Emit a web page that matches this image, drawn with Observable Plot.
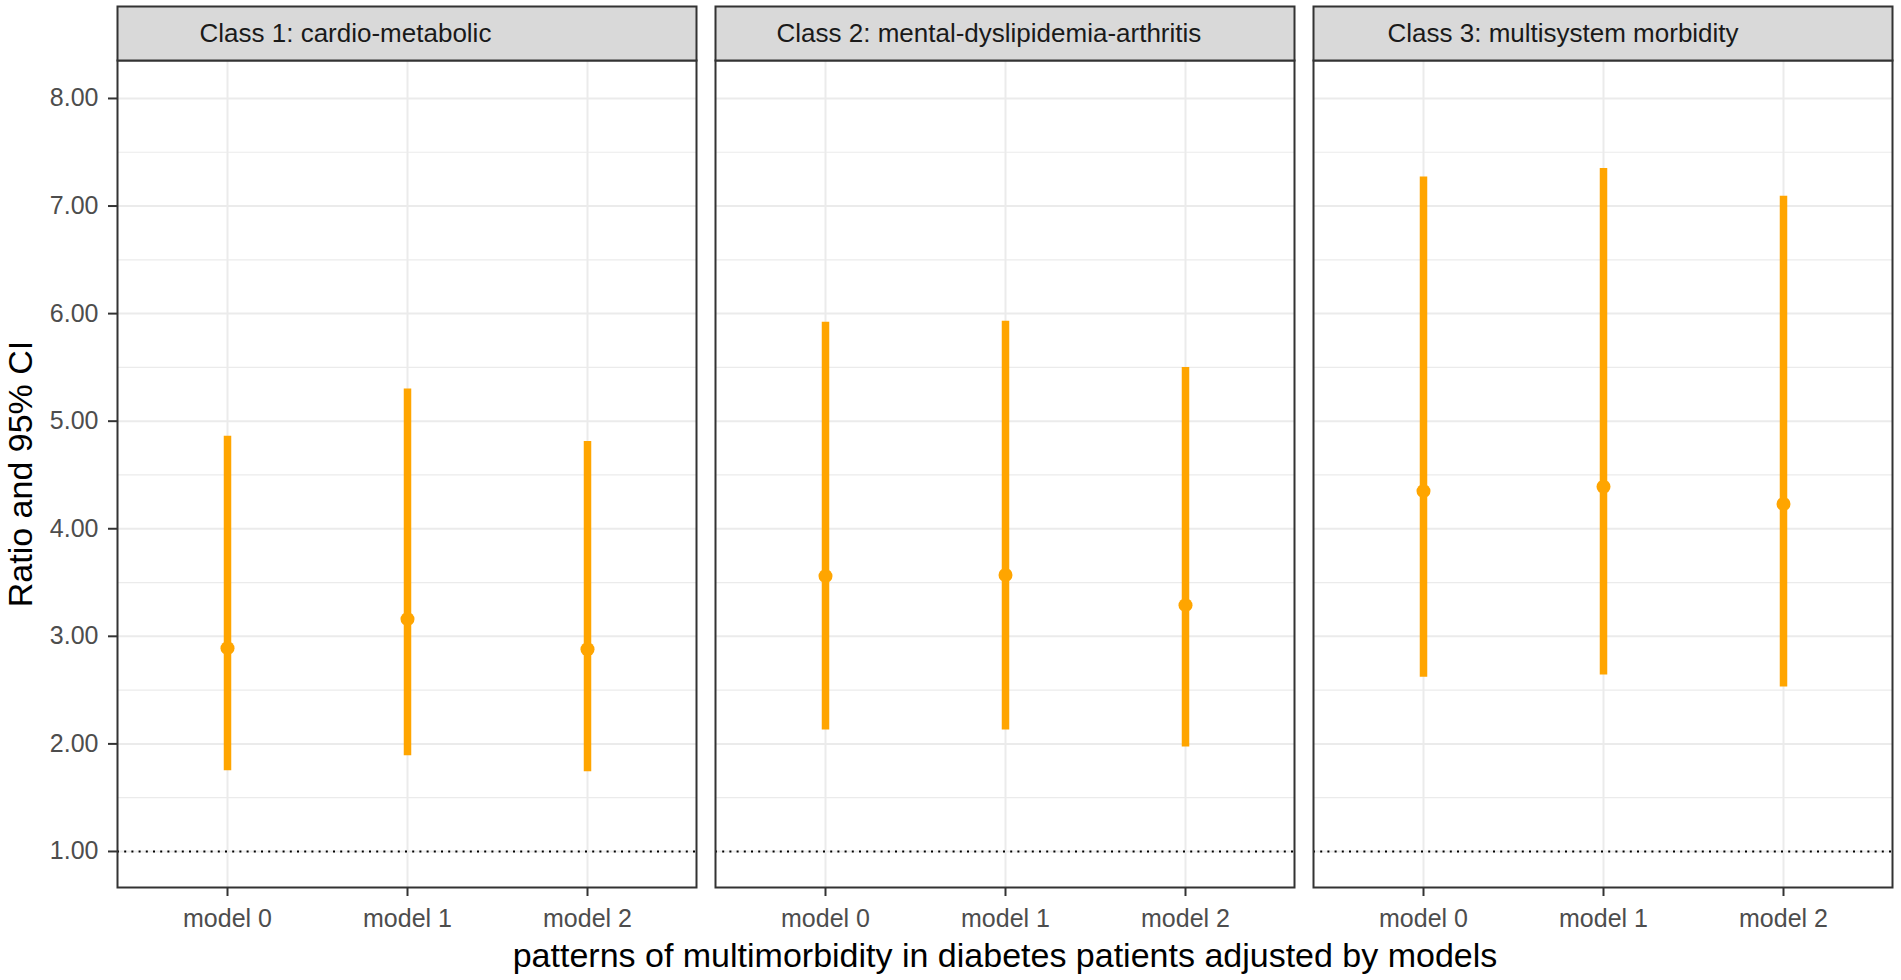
<!DOCTYPE html>
<html>
<head>
<meta charset="utf-8">
<script src="https://cdn.jsdelivr.net/npm/d3@7"></script>
<script src="https://cdn.jsdelivr.net/npm/@observablehq/plot@0.6"></script>
<style>
  html, body { margin: 0; padding: 0; background: #fff; }
  #chart svg { display: block; }
</style>
</head>
<body>
<div id="chart"></div>
<script>
// ---- data ----
const classes = [
  "Class 1: cardio-metabolic",
  "Class 2: mental-dyslipidemia-arthritis",
  "Class 3: multisystem morbidity"
];
const models = ["model 0", "model 1", "model 2"];
const estimate = [
  [2.89, 3.16, 2.88],
  [3.56, 3.57, 3.29],
  [4.35, 4.39, 4.23]
];
const lower = [
  [1.75, 1.89, 1.74],
  [2.13, 2.13, 1.97],
  [2.62, 2.64, 2.53]
];
const upper = [
  [4.86, 5.30, 4.81],
  [5.92, 5.93, 5.50],
  [7.27, 7.35, 7.09]
];
const yMajor = [1, 2, 3, 4, 5, 6, 7, 8];
const yMinor = [1.5, 2.5, 3.5, 4.5, 5.5, 6.5, 7.5];
const refLine = [1];
const xTitle = "patterns of multimorbidity in diabetes patients adjusted by models";
const yTitle = "Ratio and 95% CI";

const rows = [];
classes.forEach((c, i) => models.forEach((m, j) => rows.push({
  cls: c, model: m, est: estimate[i][j], lo: lower[i][j], hi: upper[i][j]
})));

// ---- layout ----
const W = 1901, H = 980;
const mL = 116, mR = 8, mT = 60, mB = 93;
const gap = 19;
const innerW = W - mL - mR;
const panelW = (innerW - 2 * gap) / 3;
const innerH = H - mT - mB;
const font = '"Liberation Sans", Arial, sans-serif';
const stripSize = 26;
const stripOffsets = [82, 61, 74];

const orange = "#FFA500";
const grid = "#EBEBEB";

const chart = Plot.plot({
  width: W,
  height: H,
  marginLeft: mL,
  marginRight: mR,
  marginTop: mT,
  marginBottom: mB,
  style: { fontFamily: font, background: "#fff", overflow: "visible" },
  fx: { domain: classes, paddingInner: gap / (panelW + gap), paddingOuter: 0, axis: null, label: null },
  x: { type: "point", domain: models, padding: 0.6, axis: null, label: null },
  y: { domain: [0.665, 8.353], axis: null, label: null },
  marks: [
    Plot.ruleY(yMinor, { stroke: grid, strokeWidth: 1.2 }),
    Plot.ruleY(yMajor, { stroke: grid, strokeWidth: 2 }),
    Plot.ruleX(models, { x: d => d, stroke: grid, strokeWidth: 2 }),
    Plot.ruleY(refLine, { stroke: "#000", strokeWidth: 2, strokeDasharray: "2,5.2" }),
    Plot.ruleX(rows, { fx: "cls", x: "model", y1: "lo", y2: "hi", stroke: orange, strokeWidth: 7.5 }),
    Plot.dot(rows, { fx: "cls", x: "model", y: "est", r: 7, fill: orange, stroke: null }),
    Plot.frame({ stroke: "#333333", strokeWidth: 2 }),
    // strip
    Plot.frame({ fill: "#D9D9D9", stroke: "#333333", strokeWidth: 2, insetTop: -54, insetBottom: innerH }),
    ...classes.map((c, i) => Plot.text([c], {
      fx: d => d, text: d => d, frameAnchor: "top-left",
      dx: stripOffsets[i], dy: -27,
      textAnchor: "start", lineAnchor: "middle",
      fontSize: stripSize, fill: "#1A1A1A"
    })),
    Plot.axisY(yMajor, {
      tickFormat: d3.format(".2f"), tickSize: 9, tickPadding: 10,
      fontSize: 25, stroke: "#333333", strokeWidth: 2, fill: "#4D4D4D", label: null
    }),
    Plot.axisX(models, {
      tickSize: 9, tickPadding: 13, fontSize: 25,
      stroke: "#333333", strokeWidth: 2, fill: "#4D4D4D", label: null
    }),
    Plot.text([yTitle], {
      fx: () => classes[0], text: d => d, frameAnchor: "left",
      dx: -96, rotate: -90, textAnchor: "middle", lineAnchor: "middle",
      fontSize: 34, fill: "#000"
    }),
    Plot.text([xTitle], {
      fx: () => classes[1], text: d => d, frameAnchor: "bottom",
      dy: 79, textAnchor: "middle", lineAnchor: "bottom",
      fontSize: 34, fill: "#000"
    })
  ]
});

document.getElementById("chart").appendChild(chart);
</script>
</body>
</html>
